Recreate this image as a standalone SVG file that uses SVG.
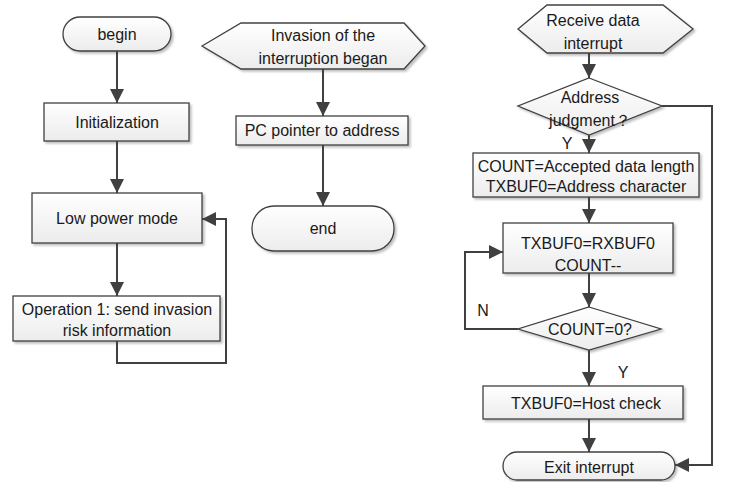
<svg xmlns="http://www.w3.org/2000/svg" width="737" height="482" viewBox="0 0 737 482">
<defs>
<linearGradient id="g" x1="0" y1="0" x2="0" y2="1">
<stop offset="0" stop-color="#ffffff"/>
<stop offset="1" stop-color="#ececec"/>
</linearGradient>
<filter id="sh" x="-10%" y="-10%" width="130%" height="140%">
<feDropShadow dx="2" dy="2" stdDeviation="1.2" flood-color="#000" flood-opacity="0.25"/>
</filter>
<marker id="ah" markerUnits="userSpaceOnUse" markerWidth="14" markerHeight="14" refX="14" refY="7" orient="auto">
<path d="M0,0 L14,7 L0,14 z" fill="#404040"/>
</marker>
</defs>
<style>
.n{fill:url(#g);stroke:#404040;stroke-width:1.3;filter:url(#sh)}
.c{fill:none;stroke:#404040;stroke-width:2;marker-end:url(#ah)}
.l{fill:none;stroke:#404040;stroke-width:2}
text{font-family:"Liberation Sans",Arial,sans-serif;font-size:16px;fill:#1a1a1a;text-anchor:middle;dominant-baseline:central}
</style>
<g id="begin"><rect class="n" x="63" y="17" width="108" height="34" rx="17"/><text x="117" y="34">begin</text></g>
<g id="init"><rect class="n" x="44" y="103" width="145" height="38"/><text x="117" y="122">Initialization</text></g>
<g id="lowpower"><rect class="n" x="32" y="193" width="170" height="50"/><text x="117" y="218">Low power mode</text></g>
<g id="op1"><rect class="n" x="13" y="296" width="207" height="45"/><text x="117" y="309">Operation 1: send invasion</text><text x="117" y="330">risk information</text></g>
<g id="inv"><polygon class="n" points="202,46 241,23 404,23 425,46 404,69 241,69"/><text x="323" y="35">Invasion of the</text><text x="323" y="58">interruption began</text></g>
<g id="pc"><rect class="n" x="236" y="116" width="172" height="29"/><text x="322" y="130">PC pointer to address</text></g>
<g id="end"><rect class="n" x="252" y="206" width="142" height="45" rx="22"/><text x="323" y="228">end</text></g>
<g id="recv"><polygon class="n" points="518,29 547,5 663,5 693,29 663,53 547,53"/><text x="593" y="20">Receive data</text><text x="593" y="43">interrupt</text></g>
<g id="addr"><polygon class="n" points="589,78 662,106 589,135 518,106"/><text x="590" y="97">Address</text><text x="590" y="120">judgment？</text></g>
<g id="count"><rect class="n" x="473" y="153" width="226" height="44"/><text x="586" y="166">COUNT=Accepted data length</text><text x="586" y="186">TXBUF0=Address character</text></g>
<g id="txrx"><rect class="n" x="503" y="223" width="170" height="50"/><text x="588" y="243">TXBUF0=RXBUF0</text><text x="588" y="265">COUNT--</text></g>
<g id="count0"><polygon class="n" points="589,307 661,329 589,350 518,329"/><text x="590" y="329">COUNT=0?</text></g>
<g id="host"><rect class="n" x="483" y="386" width="200" height="33"/><text x="586" y="403">TXBUF0=Host check</text></g>
<g id="exit"><rect class="n" x="503" y="452" width="172" height="28" rx="14"/><text x="589" y="467">Exit interrupt</text></g>
<g id="connectors">
<path class="c" d="M117,51 V103"/>
<path class="c" d="M117,141 V193"/>
<path class="c" d="M117,243 V296"/>
<path class="c" d="M117,341 V363 H226 V219 H202"/>
<path class="c" d="M323,69 V116"/>
<path class="c" d="M323,145 V206"/>
<path class="c" d="M589,53 V78"/>
<path class="c" d="M589,135 V153"/>
<path class="c" d="M662,106 H712 V465 H675"/>
<path class="c" d="M589,197 V223"/>
<path class="c" d="M589,273 V307"/>
<path class="c" d="M518,329 H465 V252 H503"/>
<path class="c" d="M589,350 V386"/>
<path class="c" d="M589,419 V452"/>
<text x="567" y="143">Y</text>
<text x="483" y="310">N</text>
<text x="623" y="372">Y</text>
</g>
</svg>
